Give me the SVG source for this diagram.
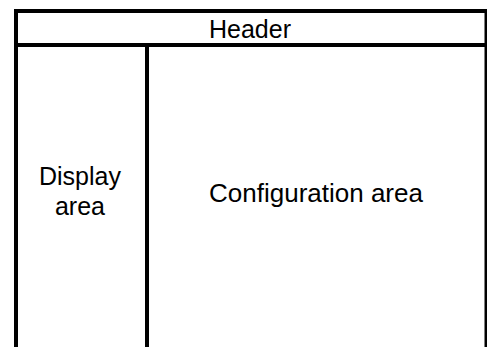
<svg xmlns="http://www.w3.org/2000/svg" width="487" height="347" viewBox="0 0 487 347">
<style>
.ln{stroke:#000;stroke-width:4;fill:none}
.t{font-family:"Liberation Sans",Arial,sans-serif;font-size:25px;fill:#000;text-anchor:middle}
</style>
<rect width="487" height="347" fill="#fff"/>
<g id="connectors">
<path class="ln" d="M16,347 V11 H486.5 V347"/>
<path class="ln" d="M16,45 H486.5"/>
<path class="ln" d="M147,45 V347"/>
</g>
<g id="header"><text class="t" x="250" y="38">Header</text></g>
<g id="display"><text class="t" x="80" y="185">Display</text><text class="t" x="80" y="215">area</text></g>
<g id="config"><text class="t" x="316" y="202" style="font-size:26px">Configuration area</text></g>
</svg>
